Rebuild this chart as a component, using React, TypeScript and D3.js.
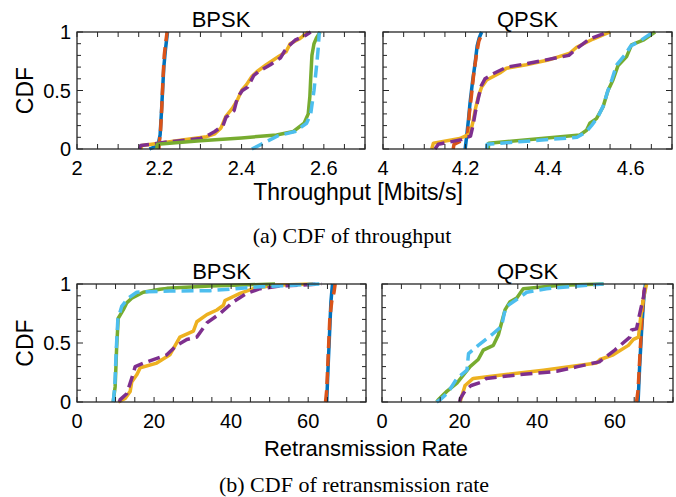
import React from "react";
import * as d3 from "d3";

type Pt = [number, number];

// ---------- Throughput, BPSK ----------
const tpBpskBlue: Pt[] = [[2.176,0],[2.19,0.02],[2.198,0.05],[2.202,0.12],[2.205,0.3],[2.208,0.5],[2.211,0.7],[2.215,0.85],[2.22,1]];
const tpBpskOrange: Pt[] = [[2.199,0],[2.2,0.05],[2.203,0.15],[2.206,0.35],[2.209,0.6],[2.212,0.8],[2.216,0.92],[2.219,1]];
const tpBpskYellow: Pt[] = [[2.155,0],[2.158,0.03],[2.2,0.05],[2.26,0.08],[2.315,0.105],[2.335,0.13],[2.35,0.18],[2.362,0.28],[2.378,0.35],[2.39,0.42],[2.4,0.5],[2.412,0.55],[2.425,0.62],[2.437,0.66],[2.46,0.72],[2.49,0.79],[2.508,0.83],[2.518,0.9],[2.54,0.94],[2.562,1]];
const tpBpskPurple: Pt[] = [[2.152,0],[2.155,0.03],[2.22,0.06],[2.3,0.09],[2.32,0.12],[2.335,0.15],[2.355,0.2],[2.362,0.27],[2.382,0.33],[2.39,0.44],[2.402,0.5],[2.415,0.53],[2.43,0.63],[2.445,0.67],[2.47,0.72],[2.495,0.78],[2.505,0.84],[2.515,0.88],[2.53,0.93],[2.555,0.97],[2.568,1]];
const tpBpskGreen: Pt[] = [[2.194,0],[2.195,0.04],[2.3,0.07],[2.4,0.095],[2.485,0.12],[2.526,0.15],[2.552,0.22],[2.562,0.3],[2.566,0.45],[2.568,0.6],[2.571,0.8],[2.576,0.9],[2.582,0.95],[2.591,1]];
const tpBpskLightBlue: Pt[] = [[2.425,0],[2.49,0.115],[2.53,0.15],[2.558,0.22],[2.568,0.3],[2.576,0.5],[2.582,0.7],[2.586,0.85],[2.589,1]];

// ---------- Throughput, QPSK ----------
const tpQpskBlue: Pt[] = [[4.199,0],[4.201,0.06],[4.203,0.12],[4.207,0.25],[4.211,0.4],[4.217,0.58],[4.223,0.73],[4.228,0.88],[4.233,0.95],[4.239,1]];
const tpQpskOrange: Pt[] = [[4.17,0],[4.172,0.04],[4.195,0.08],[4.205,0.13],[4.209,0.3],[4.214,0.45],[4.22,0.65],[4.226,0.8],[4.232,0.92],[4.241,1]];
const tpQpskYellow: Pt[] = [[4.118,0],[4.122,0.05],[4.186,0.09],[4.211,0.13],[4.219,0.25],[4.223,0.33],[4.231,0.45],[4.239,0.53],[4.251,0.59],[4.283,0.65],[4.299,0.69],[4.347,0.72],[4.4,0.76],[4.453,0.82],[4.469,0.87],[4.509,0.94],[4.55,1]];
const tpQpskPurple: Pt[] = [[4.126,0],[4.134,0.04],[4.19,0.08],[4.212,0.11],[4.218,0.2],[4.224,0.32],[4.23,0.42],[4.238,0.54],[4.247,0.6],[4.265,0.64],[4.3,0.7],[4.35,0.73],[4.45,0.8],[4.47,0.86],[4.5,0.94],[4.545,1]];
const tpQpskGreen: Pt[] = [[4.255,0],[4.256,0.05],[4.35,0.08],[4.477,0.12],[4.493,0.16],[4.501,0.22],[4.517,0.26],[4.533,0.36],[4.545,0.5],[4.557,0.59],[4.569,0.71],[4.59,0.79],[4.602,0.89],[4.63,0.93],[4.659,1]];
const tpQpskLightBlue: Pt[] = [[4.251,0],[4.252,0.04],[4.36,0.07],[4.47,0.1],[4.49,0.14],[4.505,0.2],[4.52,0.27],[4.535,0.38],[4.543,0.48],[4.555,0.6],[4.566,0.72],[4.585,0.8],[4.6,0.88],[4.625,0.93],[4.655,1]];

// ---------- Retransmission, BPSK ----------
const rtBpskBlue: Pt[] = [[64.8,0],[65.1,0.25],[65.5,0.55],[65.9,0.85],[66.3,1]];
const rtBpskOrange: Pt[] = [[64.5,0],[64.8,0.1],[65.2,0.4],[65.6,0.7],[66.1,0.85],[66.7,0.93],[67,1]];
const rtBpskYellow: Pt[] = [[10.7,0],[12.5,0.03],[13.8,0.09],[14.2,0.17],[15.5,0.23],[16.4,0.29],[20.7,0.33],[24.1,0.4],[26.7,0.55],[30.2,0.6],[31.1,0.68],[33.7,0.74],[36.3,0.78],[38,0.82],[38.4,0.86],[42.3,0.92],[45.8,0.96],[50.9,0.99],[61.3,1]];
const rtBpskPurple: Pt[] = [[11,0],[11.2,0.02],[12.9,0.07],[14.2,0.2],[15.1,0.3],[18.1,0.34],[23.3,0.4],[25.9,0.48],[28.5,0.53],[31.1,0.55],[33.7,0.67],[37.1,0.75],[40.6,0.85],[44,0.92],[47.5,0.96],[52.7,0.983],[63.5,1]];
const rtBpskGreen: Pt[] = [[9.4,0],[9.9,0.13],[10.3,0.47],[10.7,0.71],[12,0.78],[12.9,0.84],[14.2,0.88],[17.2,0.93],[21.5,0.955],[23.3,0.963],[34.5,0.983],[51.4,1]];
const rtBpskLightBlue: Pt[] = [[9.4,0],[9.8,0.13],[10.2,0.45],[10.6,0.7],[11.6,0.81],[13.3,0.88],[15.5,0.93],[18,0.935],[24.1,0.94],[34.5,0.943],[47.5,0.977],[56.1,0.99],[63.5,1]];

// ---------- Retransmission, QPSK ----------
const rtQpskBlue: Pt[] = [[66,0],[66.4,0.3],[66.9,0.6],[67.4,0.85],[67.9,1]];
const rtQpskOrange: Pt[] = [[65.6,0],[66,0.1],[66.4,0.35],[66.9,0.65],[67.3,0.86],[67.6,0.95]];
const rtQpskYellow: Pt[] = [[20.1,0],[20.3,0.02],[21.4,0.14],[23.5,0.2],[28.7,0.22],[41.6,0.27],[55.3,0.33],[56.2,0.36],[59.6,0.4],[63.5,0.48],[64.8,0.53],[66.1,0.55],[66.5,0.67],[66.9,0.78],[67.5,0.9],[68.2,1]];
const rtQpskPurple: Pt[] = [[20,0],[20.2,0.03],[21.5,0.1],[23,0.14],[25.7,0.17],[26.9,0.2],[35,0.23],[45,0.26],[50.4,0.3],[56,0.34],[60,0.44],[63.9,0.55],[64.3,0.61],[65.6,0.62],[66.5,0.76],[67.4,0.89],[67.8,1]];
const rtQpskGreen: Pt[] = [[14.1,0],[14.5,0.02],[16.7,0.09],[19.3,0.16],[21,0.23],[22.7,0.3],[24.8,0.36],[26.1,0.44],[28.7,0.48],[30,0.57],[30.8,0.67],[31.7,0.78],[33,0.85],[34.7,0.88],[36.4,0.96],[45.9,0.99],[57.1,1]];
const rtQpskLightBlue: Pt[] = [[14.1,0],[15,0.02],[17,0.08],[19.3,0.2],[21.9,0.27],[22.3,0.41],[24.8,0.48],[28.3,0.57],[30.8,0.64],[31.5,0.75],[32.1,0.81],[34.3,0.86],[37.3,0.93],[42.4,0.96],[57.1,1]];

// ---------- Ticks / labels ----------
const tpBpskTicks = [2, 2.2, 2.4, 2.6];
const tpQpskTicks = [4, 4.2, 4.4, 4.6];
const rtTicks = [0, 20, 40, 60];
const yTicks = [0, 0.5, 1];
const titles = ["BPSK", "QPSK"];
const xLabels = ["Throughput [Mbits/s]", "Retransmission Rate"];
const captions = ["(a) CDF of throughput", "(b) CDF of retransmission rate"];

const COLORS = ["#0072BD", "#D95319", "#EDB120", "#7E2F8E", "#77AC30", "#4DBEEE"];
const DASHED = [false, true, false, true, false, true];

const SANS = "'Liberation Sans', Arial, Helvetica, sans-serif";
const SERIF = "'Liberation Serif', 'Times New Roman', serif";
const AX = "#262626";

interface PanelProps {
  id: string;
  x0: number; x1: number; y0: number; y1: number;
  domain: [number, number];
  ticks: number[];
  minorStep: number;
  series: Pt[][];
  title: string;
  showY: boolean;
}

function Panel(p: PanelProps) {
  const xs = d3.scaleLinear().domain(p.domain).range([p.x0, p.x1]);
  const ys = d3.scaleLinear().domain([0, 1]).range([p.y1, p.y0]);
  const line = d3.line<Pt>().x(d => xs(d[0])).y(d => ys(d[1]));
  const nMinor = Math.round((p.domain[1] - p.domain[0]) / p.minorStep);
  const xMinor = d3.range(nMinor + 1).map(i => p.domain[0] + i * p.minorStep);
  const yMinor = d3.range(11).map(i => i / 10);
  const tickLenX = 5;
  return (
    <g>
      <defs>
        <clipPath id={p.id}>
          <rect x={p.x0} y={p.y0 - 2} width={p.x1 - p.x0} height={p.y1 - p.y0 + 4} />
        </clipPath>
      </defs>
      <rect x={p.x0} y={p.y0} width={p.x1 - p.x0} height={p.y1 - p.y0} fill="#fff" />
      <g clipPath={`url(#${p.id})`}>
        {p.series.map((s, i) => (
          <path key={i} d={line(s) || ""} fill="none" stroke={COLORS[i]} strokeWidth={3.5}
            strokeDasharray={DASHED[i] ? "12,6" : undefined} strokeLinejoin="round" />
        ))}
      </g>
      {xMinor.map((v, i) => (
        <g key={"xt" + i}>
          <line x1={xs(v)} x2={xs(v)} y1={p.y1} y2={p.y1 - tickLenX} stroke={AX} strokeWidth={1} />
          <line x1={xs(v)} x2={xs(v)} y1={p.y0} y2={p.y0 + tickLenX} stroke={AX} strokeWidth={1} />
        </g>
      ))}
      {yMinor.map((v, i) => {
        const major = i % 5 === 0;
        const L = major ? 6 : 4;
        return (
          <g key={"yt" + i}>
            <line x1={p.x0} x2={p.x0 + L} y1={ys(v)} y2={ys(v)} stroke={AX} strokeWidth={1} />
            <line x1={p.x1} x2={p.x1 - L} y1={ys(v)} y2={ys(v)} stroke={AX} strokeWidth={1} />
          </g>
        );
      })}
      <rect x={p.x0} y={p.y0} width={p.x1 - p.x0} height={p.y1 - p.y0} fill="none" stroke={AX} strokeWidth={1.3} />
      {p.ticks.map((v, i) => (
        <text key={"xl" + i} x={xs(v)} y={p.y1 + 26} textAnchor="middle" fontFamily={SANS} fontSize={20} fill="#000">
          {String(v)}
        </text>
      ))}
      {p.showY && yTicks.map((v, i) => (
        <text key={"yl" + i} x={p.x0 - 6} y={ys(v) + 7} textAnchor="end" fontFamily={SANS} fontSize={20} fill="#000">
          {String(v)}
        </text>
      ))}
      <text x={(p.x0 + p.x1) / 2} y={p.y0 - 5} textAnchor="middle" fontFamily={SANS} fontSize={22} fill="#000">
        {p.title}
      </text>
    </g>
  );
}

export default function App() {
  const topY0 = 32, topY1 = 149;
  const botY0 = 284, botY1 = 402;
  return (
    <svg width={676} height={497} style={{ position: "absolute", left: 0, top: 0, background: "#fff" }}>
      <rect x={0} y={0} width={676} height={497} fill="#fff" />
      <Panel id="c1" x0={77} x1={365} y0={topY0} y1={topY1} domain={[2, 2.7]} ticks={tpBpskTicks} minorStep={0.05}
        series={[tpBpskBlue, tpBpskOrange, tpBpskYellow, tpBpskPurple, tpBpskGreen, tpBpskLightBlue]} title={titles[0]} showY />
      <Panel id="c2" x0={383} x1={672} y0={topY0} y1={topY1} domain={[4, 4.7]} ticks={tpQpskTicks} minorStep={0.05}
        series={[tpQpskBlue, tpQpskOrange, tpQpskYellow, tpQpskPurple, tpQpskGreen, tpQpskLightBlue]} title={titles[1]} showY={false} />
      <Panel id="c3" x0={77} x1={366} y0={botY0} y1={botY1} domain={[0, 75]} ticks={rtTicks} minorStep={5}
        series={[rtBpskBlue, rtBpskOrange, rtBpskYellow, rtBpskPurple, rtBpskGreen, rtBpskLightBlue]} title={titles[0]} showY />
      <Panel id="c4" x0={382} x1={673} y0={botY0} y1={botY1} domain={[0, 75]} ticks={rtTicks} minorStep={5}
        series={[rtQpskBlue, rtQpskOrange, rtQpskYellow, rtQpskPurple, rtQpskGreen, rtQpskLightBlue]} title={titles[1]} showY={false} />
      <text transform={`translate(33,${(topY0 + topY1) / 2}) rotate(-90)`} textAnchor="middle" fontFamily={SANS} fontSize={23} fill="#000">CDF</text>
      <text transform={`translate(33,${(botY0 + botY1) / 2}) rotate(-90)`} textAnchor="middle" fontFamily={SANS} fontSize={23} fill="#000">CDF</text>
      <text x={358} y={200} textAnchor="middle" fontFamily={SANS} fontSize={23} fill="#000">{xLabels[0]}</text>
      <text x={366} y={456} textAnchor="middle" fontFamily={SANS} fontSize={22} fill="#000">{xLabels[1]}</text>
      <text x={352} y={243} textAnchor="middle" fontFamily={SERIF} fontSize={22} fill="#000">{captions[0]}</text>
      <text x={354} y={492} textAnchor="middle" fontFamily={SERIF} fontSize={22} fill="#000">{captions[1]}</text>
    </svg>
  );
}
